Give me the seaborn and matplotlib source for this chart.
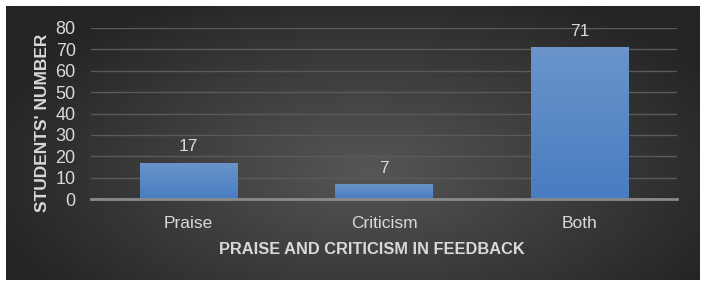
import numpy as np
import pandas as pd
import matplotlib
matplotlib.use("Agg")
import matplotlib.pyplot as plt
import seaborn as sns

categories = ["Praise", "Criticism", "Both"]
values = [17, 7, 71]
y_ticks = [0, 10, 20, 30, 40, 50, 60, 70, 80]

sns.set_theme(style="white")
plt.rcParams['font.family'] = ['Liberation Sans', 'DejaVu Sans']

W, H = 706, 286
fig = plt.figure(figsize=(W / 100, H / 100), dpi=100)
fig.patch.set_facecolor("white")

# background panel with radial gradient
bg = fig.add_axes([6 / W, 6 / H, (700 - 6) / W, (280 - 6) / H])
yy, xx = np.mgrid[0:1:300j, 0:1:700j]
r = np.sqrt(((xx - 0.52) / 0.75) ** 2 + ((yy - 0.4) / 0.95) ** 2)
r = np.clip(r / 0.75, 0, 1)
c0 = np.array([0x56, 0x56, 0x56]) / 255
c1 = np.array([0x25, 0x25, 0x25]) / 255
img = c0[None, None, :] * (1 - r[..., None]) + c1[None, None, :] * r[..., None]
bg.imshow(img, aspect="auto", extent=[0, 1, 0, 1], origin="lower")
bg.set_axis_off()

ax = fig.add_axes([91 / W, (H - 199) / H, (677 - 91) / W, (199 - 28) / H])
ax.patch.set_alpha(0)
df = pd.DataFrame({"cat": categories, "val": values})
sns.barplot(data=df, x="cat", y="val", ax=ax, color="#5b8bc9", width=0.5,
            saturation=1, zorder=3, linewidth=0, edgecolor="none")

# gradient fill for bars
grad = np.linspace(0, 1, 100)[:, None]
top = np.array([0x6a, 0x94, 0xca]) / 255
bot = np.array([0x48, 0x7d, 0xc1]) / 255
gimg = bot[None, None, :] * (1 - grad[..., None]) + top[None, None, :] * grad[..., None]
for p in ax.patches:
    x0, y0 = p.get_x(), p.get_y()
    w, h = p.get_width(), p.get_height()
    im = ax.imshow(gimg, extent=[x0, x0 + w, y0, y0 + h], aspect="auto",
                   origin="lower", zorder=4)
    im.set_clip_path(p)
    ax.annotate(f"{int(h)}", (x0 + w / 2, h), xytext=(0, 6),
                textcoords="offset points", ha="center", va="bottom",
                color="#d9d9d9", fontsize=12.5)

ax.set_xlim(-0.5, 2.5)
ax.set_ylim(0, 80)
ax.set_yticks(y_ticks)
ax.yaxis.grid(True, color="#5a5a5a", linewidth=1, zorder=0)
ax.set_axisbelow(True)
for s in ["top", "right", "left"]:
    ax.spines[s].set_visible(False)
ax.spines["bottom"].set_color("#8a8a8a")
ax.spines["bottom"].set_linewidth(2)
ax.spines["bottom"].set_zorder(5)
ax.tick_params(axis="both", length=0, colors="#d9d9d9")
ax.tick_params(axis="x", pad=12, labelsize=12.5)
ax.tick_params(axis="y", pad=11, labelsize=13)
ax.set_xlabel("PRAISE AND CRITICISM IN FEEDBACK", color="#d9d9d9",
              fontsize=11.8, fontweight="bold")
ax.set_ylabel("STUDENTS' NUMBER", color="#d9d9d9", fontsize=12.5,
              fontweight="bold")
ax.xaxis.set_label_coords(0.480, -0.251)
ax.yaxis.set_label_coords(-0.070, 0.444)

fig.savefig("out.png", dpi=100, facecolor="white")
